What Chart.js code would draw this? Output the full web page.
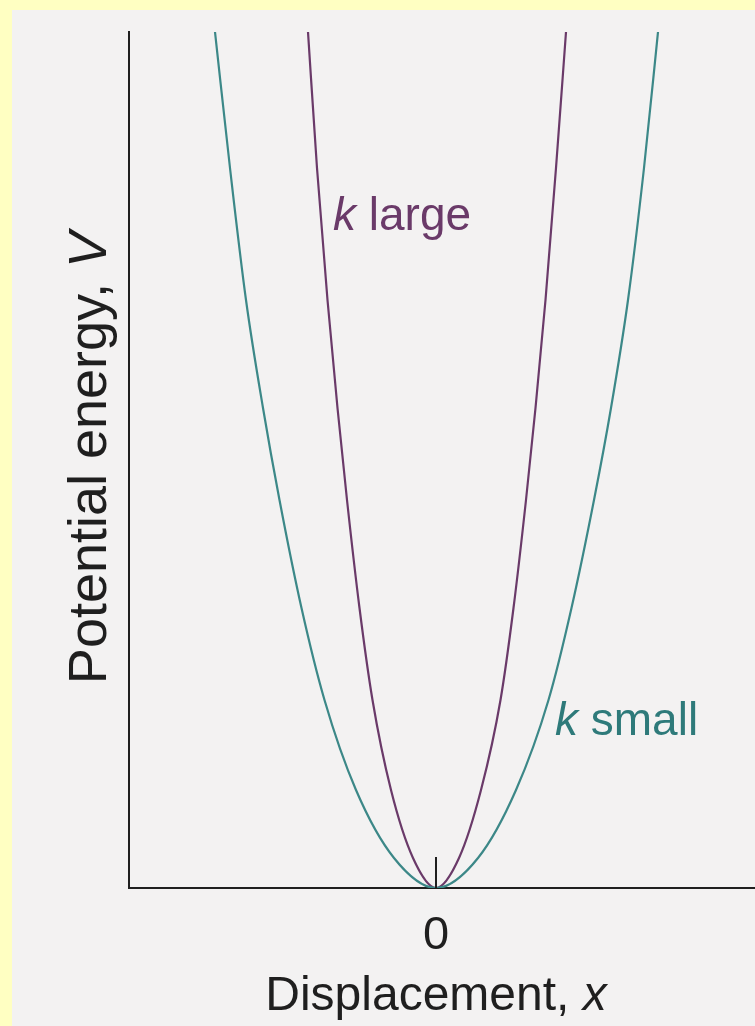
<!DOCTYPE html>
<html>
<head>
<meta charset="utf-8">
<title>Potential energy curves</title>
<script src="https://cdn.jsdelivr.net/npm/chart.js@4.4.1/dist/chart.umd.min.js"></script>
<style>
  html, body { margin: 0; padding: 0; background: #ffffc2; }
  #wrap { width: 755px; height: 1026px; }
</style>
</head>
<body>
<div id="wrap"><canvas id="potential" width="755" height="1026"></canvas></div>
<script>
// potential energy V against displacement x, arbitrary units
const energyLevels = [8.56, 7.2, 5.88, 4.8, 3.88, 2.8, 1.88, 0.98, 0.3, 0, 0.3, 0.98, 1.88, 2.8, 3.88, 4.8, 5.88, 7.2, 8.56];
const smallKx = [-2.21, -2.06, -1.90, -1.73, -1.565, -1.345, -1.115, -0.80, -0.42, 0, 0.42, 0.80, 1.125, 1.355, 1.58, 1.75, 1.92, 2.08, 2.22];
const largeKx = [-1.28, -1.19, -1.085, -0.985, -0.89, -0.765, -0.635, -0.45, -0.23, 0, 0.23, 0.45, 0.645, 0.775, 0.90, 0.995, 1.095, 1.20, 1.30];
const xTicks = [0];

const xRange = [-3.07, 3.19];
const vRange = [0, 8.56];

const teal = '#3c8888';
const plum = '#6a3a69';
const ink = '#1f1f1f';
const font = '"Liberation Sans", Arial, sans-serif';

function toPoints(xs, vs) {
  return xs.map((x, i) => ({ x: x, y: vs[i] }));
}

// text made of runs, some italic
function drawRuns(ctx, runs, x, y, size, align) {
  let total = 0;
  runs.forEach(r => {
    ctx.font = (r.italic ? 'italic ' : '') + size + 'px ' + font;
    r.w = ctx.measureText(r.text).width;
    total += r.w;
  });
  let cx = align === 'center' ? x - total / 2 : x;
  ctx.textAlign = 'left';
  ctx.textBaseline = 'alphabetic';
  runs.forEach(r => {
    ctx.font = (r.italic ? 'italic ' : '') + size + 'px ' + font;
    ctx.fillText(r.text, cx, y);
    cx += r.w;
  });
}

const pagePlugin = {
  id: 'page',
  beforeDraw(chart) {
    const ctx = chart.ctx;
    ctx.save();
    ctx.fillStyle = '#ffffc2';
    ctx.fillRect(0, 0, chart.width, chart.height);
    ctx.fillStyle = '#f3f2f2';
    ctx.fillRect(12, 10, chart.width - 12, chart.height - 10);
    ctx.restore();
  },
  afterDraw(chart) {
    const ctx = chart.ctx;
    const xs = chart.scales.x, ys = chart.scales.y;
    const x0 = xs.getPixelForValue(0);
    const y0 = ys.getPixelForValue(0);
    ctx.save();
    // short mark at the origin
    ctx.strokeStyle = ink;
    ctx.lineWidth = 2;
    ctx.beginPath();
    ctx.moveTo(x0, y0);
    ctx.lineTo(x0, y0 - 31);
    ctx.stroke();

    ctx.fillStyle = ink;
    drawRuns(ctx, [{ text: 'Displacement, ' }, { text: 'x', italic: true }], x0, 1010, 48, 'center');

    ctx.save();
    ctx.translate(106, 458);
    ctx.rotate(-Math.PI / 2);
    drawRuns(ctx, [{ text: 'Potential energy, ' }, { text: 'V', italic: true }], 0, 0, 54, 'center');
    ctx.restore();

    ctx.fillStyle = plum;
    drawRuns(ctx, [{ text: 'k', italic: true }, { text: ' large' }],
      xs.getPixelForValue(-1.03), ys.getPixelForValue(6.58), 46, 'left');
    ctx.fillStyle = '#2e7a7a';
    drawRuns(ctx, [{ text: 'k', italic: true }, { text: ' small' }],
      xs.getPixelForValue(1.19), ys.getPixelForValue(1.53), 46, 'left');
    ctx.restore();
  }
};

new Chart(document.getElementById('potential'), {
  type: 'line',
  data: {
    datasets: [
      {
        label: 'k small',
        data: toPoints(smallKx, energyLevels),
        borderColor: teal,
        borderWidth: 2.2,
        pointRadius: 0,
        cubicInterpolationMode: 'monotone',
        fill: false
      },
      {
        label: 'k large',
        data: toPoints(largeKx, energyLevels),
        borderColor: plum,
        borderWidth: 2.2,
        pointRadius: 0,
        cubicInterpolationMode: 'monotone',
        fill: false
      }
    ]
  },
  options: {
    responsive: false,
    animation: false,
    devicePixelRatio: 1,
    layout: { padding: { left: 0, top: 32, right: 0, bottom: 0 } },
    plugins: { legend: { display: false }, tooltip: { enabled: false } },
    scales: {
      x: {
        type: 'linear',
        min: xRange[0],
        max: xRange[1],
        afterBuildTicks: s => { s.ticks = xTicks.map(v => ({ value: v })); },
        afterFit: s => { s.height = 138; },
        grid: { display: false, drawTicks: false },
        border: { display: true, color: ink, width: 2 },
        ticks: { color: ink, padding: 20, font: { family: font, size: 47 }, maxRotation: 0 }
      },
      y: {
        type: 'linear',
        min: vRange[0],
        max: vRange[1],
        afterFit: s => { s.width = 129; },
        grid: { display: false, drawTicks: false },
        border: { display: true, color: ink, width: 2 },
        ticks: { display: false }
      }
    }
  },
  plugins: [pagePlugin]
});
</script>
</body>
</html>
